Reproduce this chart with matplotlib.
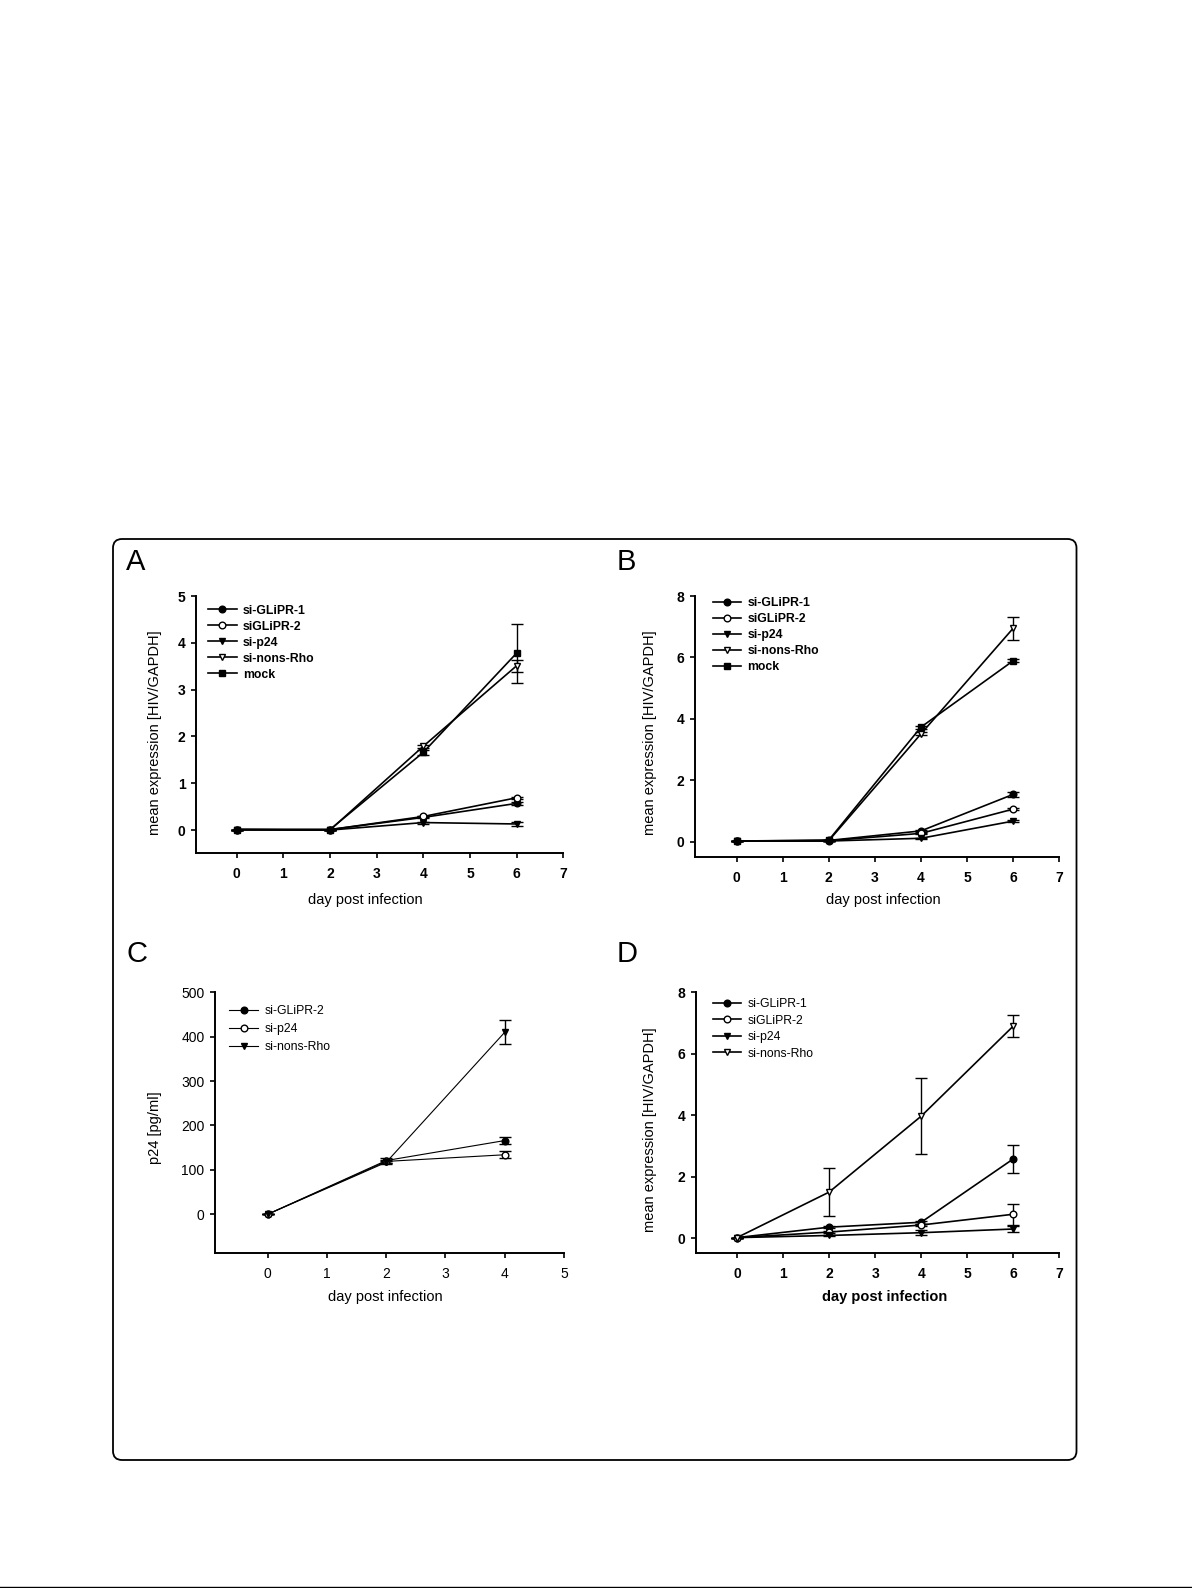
import matplotlib
matplotlib.use("Agg")
import matplotlib.pyplot as plt
from matplotlib.patches import FancyBboxPatch
from matplotlib.lines import Line2D

plt.rcParams['font.family'] = ['Liberation Sans', 'DejaVu Sans']

# ---------------- data ----------------
days = [0, 2, 4, 6]
days_c = [0, 2, 4]

labels_ab = ["si-GLiPR-1", "siGLiPR-2", "si-p24", "si-nons-Rho", "mock"]
labels_d = ["si-GLiPR-1", "siGLiPR-2", "si-p24", "si-nons-Rho"]
labels_c = ["si-GLiPR-2", "si-p24", "si-nons-Rho"]

# Panel A
a_glipr1 = [0.01, 0.01, 0.27, 0.57]
a_glipr2 = [0.01, 0.01, 0.29, 0.69]
a_p24 = [0.01, 0.00, 0.16, 0.13]
a_rho = [0.01, 0.00, 1.79, 3.51]
a_mock = [0.01, 0.01, 1.66, 3.78]
a_glipr1_err = [0, 0, 0.02, 0.04]
a_glipr2_err = [0, 0, 0.02, 0.02]
a_p24_err = [0, 0, 0.02, 0.04]
a_rho_err = [0, 0, 0.03, 0.13]
a_mock_err = [0, 0, 0.05, 0.63]

# Panel B
b_glipr1 = [0.02, 0.04, 0.35, 1.54]
b_glipr2 = [0.02, 0.03, 0.27, 1.06]
b_p24 = [0.02, 0.02, 0.11, 0.67]
b_rho = [0.02, 0.03, 3.51, 6.95]
b_mock = [0.02, 0.05, 3.73, 5.89]
b_glipr1_err = [0, 0, 0.03, 0.08]
b_glipr2_err = [0, 0, 0.02, 0.03]
b_p24_err = [0, 0, 0.02, 0.04]
b_rho_err = [0, 0, 0.05, 0.38]
b_mock_err = [0, 0, 0.05, 0.05]

# Panel C
c_glipr2 = [0, 121, 166]
c_p24 = [0, 119, 134]
c_rho = [0, 117, 410]
c_glipr2_err = [0, 5, 7]
c_p24_err = [0, 4, 8]
c_rho_err = [0, 3, 27]

# Panel D
d_glipr1 = [0.02, 0.36, 0.52, 2.58]
d_glipr2 = [0.02, 0.20, 0.43, 0.78]
d_p24 = [0.02, 0.09, 0.18, 0.30]
d_rho = [0.02, 1.50, 3.97, 6.90]
d_glipr1_err = [0, 0.04, 0.05, 0.45]
d_glipr2_err = [0, 0.02, 0.03, 0.34]
d_p24_err = [0, 0.03, 0.08, 0.10]
d_rho_err = [0, 0.79, 1.23, 0.37]

# ---------------- figure ----------------
W, H = 1192, 1588
fig = plt.figure(figsize=(W / 100, H / 100), dpi=100)


def px_axes(x0, x1, ytop, ybot):
    return fig.add_axes([x0 / W, 1 - ybot / H, (x1 - x0) / W, (ybot - ytop) / H])


markers_ab = [dict(marker='o', mfc='black'), dict(marker='o', mfc='white'),
              dict(marker='v', mfc='black'), dict(marker='v', mfc='white'),
              dict(marker='s', mfc='black')]
markers_c = [dict(marker='o', mfc='black'), dict(marker='o', mfc='white'),
             dict(marker='v', mfc='black')]


def style_axes(ax, xlim, ylim, xticks, yticks, bold):
    ax.set_xlim(*xlim)
    ax.set_ylim(*ylim)
    ax.set_xticks(xticks)
    ax.set_yticks(yticks)
    for s in ['top', 'right']:
        ax.spines[s].set_visible(False)
    for s in ['left', 'bottom']:
        ax.spines[s].set_linewidth(1.4)
    ax.tick_params(axis='both', direction='out', length=3.6, width=1.2,
                   labelsize=10)
    ax.tick_params(axis='x', pad=6.5)
    ax.tick_params(axis='y', pad=4)
    if bold:
        for t in ax.get_xticklabels() + ax.get_yticklabels():
            t.set_fontweight('bold')


def plot_series(ax, x, ys, errs, labels, mstyles, lw=1.2, ms=4.8):
    handles = []
    for y, e, lab, st in zip(ys, errs, labels, mstyles):
        h = ax.errorbar(x, y, yerr=e, color='black', lw=lw, ms=ms,
                        mec='black', mew=1.0, capsize=4, elinewidth=1.0,
                        capthick=1.0, label=lab, **st)
        handles.append(h[0])
    return handles


def add_legend(ax, handles, labels, x, ytop, fs, bold, spacing):
    leg = ax.legend(handles, labels, loc='upper left',
                    bbox_to_anchor=(x / W, 1 - ytop / H),
                    bbox_transform=fig.transFigure, frameon=False,
                    borderpad=0, borderaxespad=0, handlelength=2.35,
                    handletextpad=0.5, labelspacing=spacing,
                    prop=dict(size=fs, weight='bold' if bold else 'normal'))
    return leg


# Panel A
axA = px_axes(196, 563.3, 596, 853)
hA = plot_series(axA, days, [a_glipr1, a_glipr2, a_p24, a_rho, a_mock],
                 [a_glipr1_err, a_glipr2_err, a_p24_err, a_rho_err, a_mock_err],
                 labels_ab, markers_ab)
style_axes(axA, (-0.87, 7), (-0.49, 5), range(0, 8), range(0, 6), True)
add_legend(axA, hA, labels_ab, 208, 604.5, 8.8, True, 0.33)

# Panel B
axB = px_axes(695, 1059.3, 596, 856.7)
hB = plot_series(axB, days, [b_glipr1, b_glipr2, b_p24, b_rho, b_mock],
                 [b_glipr1_err, b_glipr2_err, b_p24_err, b_rho_err, b_mock_err],
                 labels_ab, markers_ab)
style_axes(axB, (-0.90, 7), (-0.49, 8), range(0, 8), range(0, 9, 2), True)
add_legend(axB, hB, labels_ab, 712.7, 597, 8.8, True, 0.33)

# Panel C
axC = px_axes(215, 564, 992.3, 1253.3)
hC = plot_series(axC, days_c, [c_glipr2, c_p24, c_rho],
                 [c_glipr2_err, c_p24_err, c_rho_err], labels_c, markers_c,
                 lw=0.8, ms=4.8)
style_axes(axC, (-0.89, 5), (-88, 500), range(0, 6), range(0, 501, 100), False)
add_legend(axC, hC, labels_c, 229.3, 1005.5, 8.8, False, 0.47)

# Panel D
axD = px_axes(696, 1059.3, 992.3, 1253.3)
hD = plot_series(axD, days, [d_glipr1, d_glipr2, d_p24, d_rho],
                 [d_glipr1_err, d_glipr2_err, d_p24_err, d_rho_err],
                 labels_d, markers_ab[:4])
style_axes(axD, (-0.89, 7), (-0.49, 8), range(0, 8), range(0, 9, 2), True)
add_legend(axD, hD, labels_d, 712.7, 998, 8.8, False, 0.37)

# axis labels
def ftext(x, y, s, **kw):
    fig.text(x / W, 1 - y / H, s, **kw)

ftext(365, 900, "day post infection", ha='center', va='center', fontsize=10.5)
ftext(883, 900, "day post infection", ha='center', va='center', fontsize=10.5)
ftext(385, 1297, "day post infection", ha='center', va='center', fontsize=10.5)
ftext(885, 1297, "day post infection", ha='center', va='center', fontsize=10.5,
      fontweight='bold')
ftext(155, 733, "mean expression [HIV/GAPDH]", ha='center', va='center',
      rotation=90, fontsize=10.5)
ftext(650, 733, "mean expression [HIV/GAPDH]", ha='center', va='center',
      rotation=90, fontsize=10.5)
ftext(155, 1128, "p24 [pg/ml]", ha='center', va='center', rotation=90,
      fontsize=10.5)
ftext(650, 1130, "mean expression [HIV/GAPDH]", ha='center', va='center',
      rotation=90, fontsize=10.5)

# panel letters
ftext(126, 570, "A", ha='left', va='baseline', fontsize=21)
ftext(617, 570, "B", ha='left', va='baseline', fontsize=21)
ftext(126, 962, "C", ha='left', va='baseline', fontsize=21)
ftext(617, 962, "D", ha='left', va='baseline', fontsize=21)

# outer rounded frame
frame = FancyBboxPatch((1.13, (H - 1460) / 100), (1076.5 - 113) / 100,
                       (1460 - 539) / 100,
                       boxstyle="round,pad=0,rounding_size=0.09",
                       transform=fig.dpi_scale_trans, fill=False,
                       edgecolor='black', linewidth=1.3)
fig.patches.append(frame)

# bottom rule
fig.add_artist(Line2D([0, 1], [1 - 1586.7 / H] * 2, transform=fig.transFigure,
                      color='black', lw=1.0))

fig.savefig("out.png", dpi=100)
